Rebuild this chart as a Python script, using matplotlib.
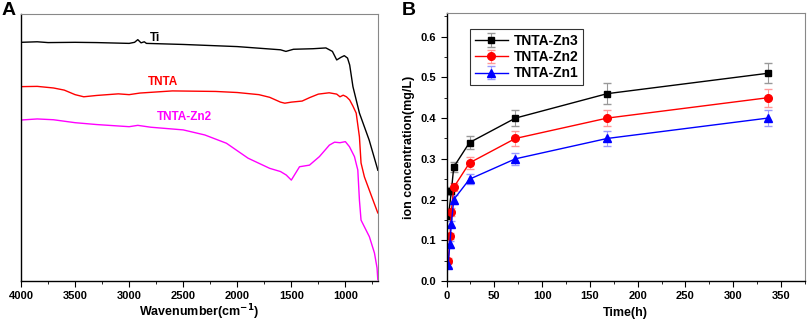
import numpy as np
import matplotlib
matplotlib.use('Agg')
from matplotlib import pyplot as plt
from matplotlib.ticker import MultipleLocator, FormatStrFormatter

plt.rcParams['font.family'] = ['Liberation Sans', 'DejaVu Sans']
plt.rcParams['font.weight'] = 'bold'
plt.rcParams['axes.labelweight'] = 'bold'
plt.rcParams['mathtext.default'] = 'bf'

# ---- panel A: FTIR spectra (arbitrary transmittance units)
ti_wn = [4000, 3850, 3750, 3500, 3300, 3000, 2950, 2920, 2890, 2860, 2840, 2500,
         2000, 1800, 1600, 1550, 1480, 1300, 1180, 1120, 1080, 1040, 1010, 980,
         960, 930, 870, 780, 705, 700]
ti_val = [89.4, 89.6, 89.3, 89.4, 89.3, 89.0, 89.4, 90.4, 89.2, 89.6, 89.0, 88.6,
          87.8, 87.2, 86.6, 86.0, 86.8, 87.0, 87.3, 86.0, 82.8, 83.8, 84.4, 83.5,
          80.9, 72.8, 62.9, 52.8, 42.3, 41.5]

tnta_wn = [4000, 3850, 3700, 3600, 3500, 3420, 3300, 3100, 3000, 2900, 2600, 2200,
           2000, 1800, 1700, 1600, 1560, 1500, 1400, 1330, 1250, 1150, 1080, 1050,
           1020, 990, 960, 930, 900, 870, 855, 824, 760, 700]
tnta_val = [72.8, 72.9, 72.3, 71.5, 69.8, 69.0, 69.5, 70.1, 69.8, 70.4, 71.2, 71.0,
            70.6, 69.8, 68.8, 67.0, 66.6, 67.0, 67.4, 68.7, 70.0, 70.5, 70.0, 69.0,
            69.6, 69.0, 67.8, 65.5, 62.9, 54.0, 44.2, 39.0, 32.0, 25.5]

zn2_wn = [4000, 3850, 3700, 3500, 3300, 3000, 2920, 2800, 2500, 2300, 2100, 1900,
          1700, 1600, 1547, 1500, 1424, 1332, 1240, 1148, 1100, 1050, 1000, 962,
          916, 894, 885, 870, 855, 824, 778, 731, 707, 700]
zn2_val = [60.3, 60.7, 60.4, 59.3, 58.6, 57.8, 58.3, 57.6, 56.6, 54.7, 51.6, 46.0,
           42.2, 41.0, 39.7, 37.8, 42.8, 43.4, 46.6, 50.9, 52.0, 51.8, 52.2, 50.3,
           46.6, 43.0, 41.6, 30.3, 22.8, 20.3, 16.6, 10.5, 4.9, 0.5]

# ---- panel B: ion release
t_zn3 = [2, 5, 7.5, 24, 72, 168, 336]
zn3 = [0.16, 0.22, 0.28, 0.34, 0.40, 0.46, 0.51]
zn3_err = [0.008, 0.01, 0.012, 0.015, 0.02, 0.025, 0.025]

t_zn2 = [2, 3.5, 5, 7.5, 24, 72, 168, 336]
zn2 = [0.05, 0.11, 0.17, 0.23, 0.29, 0.35, 0.40, 0.45]
zn2_err = [0.006, 0.008, 0.01, 0.01, 0.015, 0.018, 0.02, 0.022]

t_zn1 = [1.5, 3.5, 5, 7.5, 24, 72, 168, 336]
zn1 = [0.04, 0.09, 0.14, 0.20, 0.25, 0.30, 0.35, 0.40]
zn1_err = [0.005, 0.008, 0.008, 0.01, 0.012, 0.015, 0.018, 0.02]

fig = plt.figure(figsize=(8.09, 3.26), dpi=100)
axA = fig.add_axes([0.026, 0.138, 0.441, 0.819])
axB = fig.add_axes([0.552, 0.138, 0.443, 0.822])

for ax in (axA, axB):
    ax.spines['top'].set_color('#888888')
    ax.spines['right'].set_color('#888888')
    ax.spines['left'].set_linewidth(1.0)
    ax.spines['bottom'].set_linewidth(1.0)
    ax.tick_params(which='both', direction='out', top=False, right=False, labelsize=8)
    ax.tick_params(which='major', length=4)
    ax.tick_params(which='minor', length=2)

# panel A
axA.plot(ti_wn, ti_val, color='black', lw=1.0)
axA.plot(tnta_wn, tnta_val, color='#ff0000', lw=1.0)
axA.plot(zn2_wn, zn2_val, color='#ff00ff', lw=1.0)
axA.text(2810, 91, 'Ti', color='black', fontsize=8.5, fontweight='bold', va='center', ha='left')
axA.text(2689, 74.5, 'TNTA', color='#ff0000', fontsize=8.5, fontweight='bold', va='center', ha='center')
axA.text(2490, 61.4, 'TNTA-Zn2', color='#ff00ff', fontsize=8.5, fontweight='bold', va='center', ha='center')
axA.set_xlim(4000, 700)
axA.set_ylim(0, 100)
axA.set_yticks([])
axA.xaxis.set_major_locator(MultipleLocator(500))
axA.xaxis.set_minor_locator(MultipleLocator(250))
axA.set_xlabel('Wavenumber(cm$^{-1}$)', fontsize=9, fontweight='bold', labelpad=1)

# panel B
axB.errorbar(t_zn3, zn3, yerr=zn3_err, color='black', marker='s', ms=5, lw=1.0,
             ecolor='#999999', elinewidth=0.8, capsize=3, label='TNTA-Zn3')
axB.errorbar(t_zn2, zn2, yerr=zn2_err, color='#ff0000', marker='o', ms=5.5, lw=1.0,
             ecolor='#ff9999', elinewidth=0.8, capsize=3, label='TNTA-Zn2')
axB.errorbar(t_zn1, zn1, yerr=zn1_err, color='#0000ff', marker='^', ms=5.5, lw=1.0,
             ecolor='#9999ff', elinewidth=0.8, capsize=3, label='TNTA-Zn1')
axB.set_xlim(0, 375)
axB.set_ylim(0, 0.658)
axB.xaxis.set_major_locator(MultipleLocator(50))
axB.xaxis.set_minor_locator(MultipleLocator(25))
axB.yaxis.set_major_locator(MultipleLocator(0.1))
axB.yaxis.set_minor_locator(MultipleLocator(0.05))
axB.yaxis.set_major_formatter(FormatStrFormatter('%.1f'))
axB.set_xlabel('Time(h)', fontsize=9, fontweight='bold')
axB.set_ylabel('ion concentration(mg/L)', fontsize=9, fontweight='bold', labelpad=4)
leg = axB.legend(loc='upper left', bbox_to_anchor=(0.045, 0.965),
                 prop={'size': 10, 'weight': 'bold'},
                 frameon=True, fancybox=False, edgecolor='black', handlelength=2.4,
                 labelspacing=0.15, borderpad=0.35, handletextpad=0.4)
leg.get_frame().set_linewidth(0.8)

for ax in (axA, axB):
    for lab in ax.get_xticklabels() + ax.get_yticklabels():
        lab.set_fontweight('bold')

fig.text(0.002, 0.995, 'A', fontsize=14, fontweight='bold', va='top', ha='left')
fig.text(0.496, 0.995, 'B', fontsize=14, fontweight='bold', va='top', ha='left')

fig.savefig('out.png', dpi=100)
